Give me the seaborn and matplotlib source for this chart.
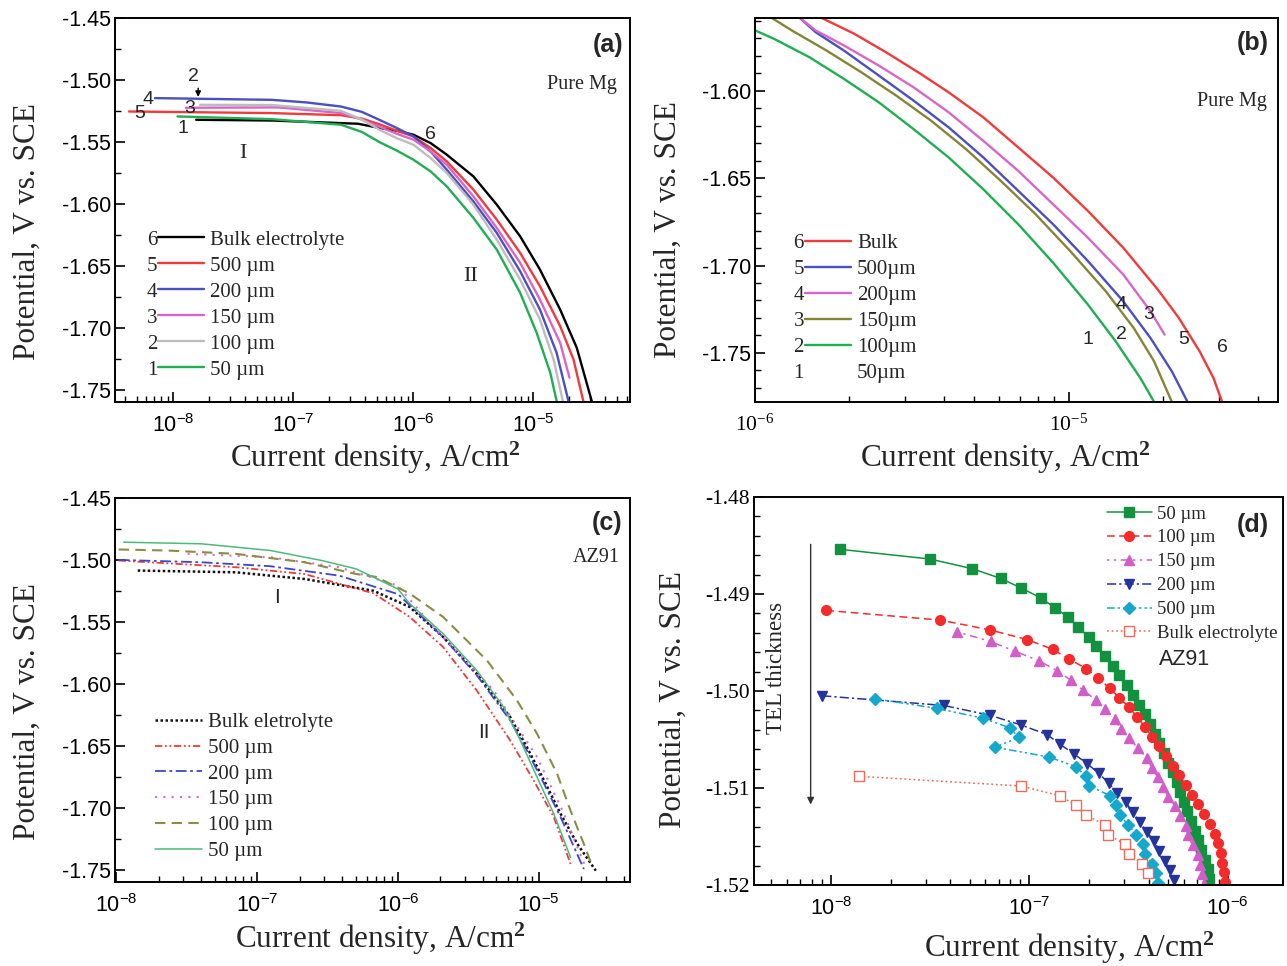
import numpy as np
import pandas as pd
import matplotlib
matplotlib.use("Agg")
import matplotlib.pyplot as plt
import seaborn as sns
from matplotlib.ticker import (FixedLocator, FuncFormatter, LogLocator,
                               NullFormatter, MultipleLocator, FormatStrFormatter)
from matplotlib.lines import Line2D

# ---------------- (a) Pure Mg, cathodic branches ----------------
a_bulk_i = [1.56e-8, 6.68e-8, 3.48e-7, 5.31e-7, 7.30e-7, 1.01e-6, 1.40e-6, 1.91e-6, 3.18e-6, 4.98e-6, 7.80e-6, 1.14e-5, 1.68e-5, 2.31e-5, 3.08e-5]
a_bulk_v = [-1.5322, -1.5328, -1.5354, -1.5389, -1.5410, -1.5443, -1.5510, -1.5604, -1.5779, -1.6007, -1.6263, -1.6531, -1.6854, -1.7162, -1.7593]
a_500_i = [4.30e-9, 6.68e-8, 2.51e-7, 3.74e-7, 5.31e-7, 7.30e-7, 1.01e-6, 1.40e-6, 1.91e-6, 3.18e-6, 4.98e-6, 7.80e-6, 1.14e-5, 1.68e-5, 2.17e-5, 2.62e-5]
a_500_v = [-1.5255, -1.5268, -1.5285, -1.5312, -1.5360, -1.5410, -1.5457, -1.5550, -1.5658, -1.5886, -1.6128, -1.6397, -1.6666, -1.6988, -1.7257, -1.7593]
a_200_i = [7.08e-9, 6.68e-8, 1.30e-7, 2.51e-7, 3.74e-7, 5.31e-7, 7.30e-7, 1.01e-6, 1.40e-6, 1.91e-6, 3.18e-6, 4.98e-6, 7.80e-6, 1.14e-5, 1.57e-5, 1.97e-5]
a_200_v = [-1.5147, -1.5161, -1.5182, -1.5215, -1.5258, -1.5325, -1.5388, -1.5457, -1.5578, -1.5725, -1.5981, -1.6235, -1.6545, -1.6854, -1.7203, -1.7593]
a_150_i = [1.28e-8, 7.64e-8, 2.51e-7, 3.74e-7, 5.31e-7, 7.30e-7, 1.01e-6, 1.40e-6, 1.91e-6, 3.18e-6, 4.98e-6, 7.80e-6, 1.14e-5, 1.68e-5, 2.01e-5]
a_150_v = [-1.5225, -1.5222, -1.5268, -1.5320, -1.5380, -1.5435, -1.5483, -1.5578, -1.5685, -1.5940, -1.6195, -1.6477, -1.6773, -1.7122, -1.7404]
a_100_i = [1.68e-8, 6.68e-8, 2.51e-7, 3.74e-7, 5.31e-7, 7.30e-7, 1.01e-6, 1.40e-6, 1.91e-6, 3.18e-6, 4.98e-6, 7.80e-6, 1.14e-5, 1.48e-5, 1.77e-5]
a_100_v = [-1.5201, -1.5203, -1.5250, -1.5320, -1.5405, -1.5470, -1.5524, -1.5631, -1.5752, -1.6007, -1.6289, -1.6612, -1.6934, -1.7257, -1.7593]
a_50_i = [1.09e-8, 6.68e-8, 2.51e-7, 3.74e-7, 5.31e-7, 7.30e-7, 1.01e-6, 1.40e-6, 1.91e-6, 3.18e-6, 4.98e-6, 7.80e-6, 1.07e-5, 1.39e-5, 1.57e-5]
a_50_v = [-1.5295, -1.5317, -1.5362, -1.5420, -1.5505, -1.5570, -1.5645, -1.5739, -1.5860, -1.6114, -1.6370, -1.6719, -1.7041, -1.7364, -1.7593]
a_labels = ["Bulk electrolyte", "500 µm", "200 µm", "150 µm", "100 µm", "50 µm"]
a_numbers = ["6", "5", "4", "3", "2", "1"]

# ---------------- (b) Pure Mg, enlarged Tafel region ----------------
b_bulk_i = [1.61e-6, 2.07e-6, 2.61e-6, 3.37e-6, 4.14e-6, 5.34e-6, 6.90e-6, 8.91e-6, 1.15e-5, 1.49e-5, 1.92e-5, 2.24e-5, 2.61e-5, 2.89e-5, 3.08e-5]
b_bulk_v = [-1.558, -1.5675, -1.5780, -1.5904, -1.6010, -1.6153, -1.6325, -1.6497, -1.6688, -1.6898, -1.7137, -1.7299, -1.7490, -1.7643, -1.778]
b_500_i = [1.38e-6, 1.56e-6, 1.92e-6, 2.48e-6, 3.20e-6, 4.14e-6, 5.34e-6, 6.90e-6, 8.91e-6, 1.15e-5, 1.49e-5, 1.82e-5, 2.13e-5, 2.39e-5]
b_500_v = [-1.558, -1.5666, -1.5771, -1.5914, -1.6057, -1.6210, -1.6382, -1.6573, -1.6764, -1.6974, -1.7204, -1.7414, -1.7605, -1.778]
b_200_i = [1.38e-6, 1.56e-6, 1.92e-6, 2.48e-6, 3.20e-6, 4.14e-6, 5.34e-6, 6.90e-6, 8.91e-6, 1.15e-5, 1.49e-5, 1.82e-5, 2.02e-5]
b_200_v = [-1.558, -1.5656, -1.5742, -1.5857, -1.5981, -1.6124, -1.6287, -1.6459, -1.6650, -1.6841, -1.7051, -1.7261, -1.7395]
b_150_i = [1.12e-6, 1.31e-6, 1.69e-6, 2.18e-6, 2.82e-6, 3.64e-6, 4.70e-6, 6.07e-6, 7.84e-6, 1.01e-5, 1.31e-5, 1.61e-5, 1.87e-5, 2.13e-5]
b_150_v = [-1.558, -1.5656, -1.5771, -1.5895, -1.6029, -1.6172, -1.6334, -1.6516, -1.6707, -1.6917, -1.7146, -1.7357, -1.7548, -1.778]
b_100_i = [1.00e-6, 1.15e-6, 1.49e-6, 1.92e-6, 2.48e-6, 3.20e-6, 4.14e-6, 5.34e-6, 6.90e-6, 8.91e-6, 1.15e-5, 1.41e-5, 1.69e-5, 1.87e-5]
b_100_v = [-1.5656, -1.5704, -1.5809, -1.5933, -1.6067, -1.6220, -1.6382, -1.6564, -1.6764, -1.6984, -1.7223, -1.7433, -1.7643, -1.778]
b_labels = ["Bulk", "500µm", "200µm", "150µm", "100µm", "50µm"]
b_numbers = ["6", "5", "4", "3", "2", "1"]

# ---------------- (c) AZ91 ----------------
c_bulk_i = [1.42e-8, 7.05e-8, 2.17e-7, 6.70e-7, 1.21e-6, 2.09e-6, 3.62e-6, 6.27e-6, 8.24e-6, 1.09e-5, 1.43e-5, 1.88e-5, 2.54e-5]
c_bulk_v = [-1.5086, -1.5100, -1.5154, -1.5249, -1.5380, -1.5622, -1.5918, -1.6269, -1.6512, -1.6781, -1.7051, -1.7294, -1.7509]
c_500_i = [1.04e-8, 7.05e-8, 2.17e-7, 6.70e-7, 1.21e-6, 2.09e-6, 3.62e-6, 6.27e-6, 9.20e-6, 1.28e-5, 1.68e-5]
c_500_v = [-1.5005, -1.5059, -1.5114, -1.5270, -1.5460, -1.5703, -1.6053, -1.6458, -1.6781, -1.7078, -1.7455]
c_200_i = [1.04e-8, 4.02e-8, 1.24e-7, 3.82e-7, 1.00e-6, 2.09e-6, 3.62e-6, 6.27e-6, 8.24e-6, 1.09e-5, 1.43e-5, 2.09e-5]
c_200_v = [-1.5000, -1.5019, -1.5051, -1.5127, -1.5276, -1.5622, -1.5930, -1.6296, -1.6539, -1.6808, -1.7078, -1.7496]
c_150_i = [3.21e-8, 1.24e-7, 3.82e-7, 1.00e-6, 1.78e-6, 4.78e-6, 9.73e-6, 1.51e-5, 2.15e-5]
c_150_v = [-1.4951, -1.4978, -1.5059, -1.5208, -1.5541, -1.6053, -1.6593, -1.7051, -1.7483]
c_100_i = [1.04e-8, 2.29e-8, 7.05e-8, 2.17e-7, 5.06e-7, 7.00e-7, 1.21e-6, 2.09e-6, 4.28e-6, 7.00e-6, 9.73e-6, 1.35e-5, 1.68e-5, 2.09e-5, 2.34e-5]
c_100_v = [-1.4916, -1.4924, -1.4951, -1.5019, -1.5114, -1.5137, -1.5271, -1.5460, -1.5811, -1.6134, -1.6404, -1.6727, -1.7024, -1.7294, -1.7442]
c_50_i = [1.13e-8, 4.02e-8, 1.24e-7, 2.88e-7, 5.06e-7, 1.00e-6, 1.21e-6, 2.09e-6, 3.62e-6, 5.62e-6, 7.40e-6, 9.73e-6, 1.28e-5, 1.68e-5]
c_50_v = [-1.4857, -1.4870, -1.4924, -1.5005, -1.5073, -1.5235, -1.5352, -1.5595, -1.5891, -1.6188, -1.6458, -1.6755, -1.7051, -1.7402]
c_labels = ["Bulk eletrolyte", "500 µm", "200 µm", "150 µm", "100 µm", "50 µm"]

# ---------------- (d) AZ91, sampled points near corrosion potential ----------------
d_50_i = [1.11e-8, 3.15e-8, 5.16e-8, 7.17e-8, 9.12e-8, 1.14e-7, 1.34e-7, 1.57e-7, 1.75e-7, 1.99e-7,
          2.18e-7, 2.40e-7, 2.63e-7, 2.84e-7, 3.09e-7, 3.34e-7, 3.56e-7, 3.83e-7, 4.06e-7, 4.28e-7,
          4.53e-7, 4.79e-7, 4.98e-7, 5.27e-7, 5.53e-7, 5.75e-7, 5.99e-7, 6.24e-7, 6.55e-7, 6.81e-7,
          7.06e-7, 7.32e-7, 7.71e-7, 7.93e-7, 8.05e-7]
d_50_v = [-1.4854, -1.4864, -1.4874, -1.4884, -1.4894, -1.4904, -1.4914, -1.4924, -1.4934, -1.4944,
          -1.4954, -1.4964, -1.4974, -1.4984, -1.4994, -1.5004, -1.5014, -1.5024, -1.5034, -1.5044,
          -1.5054, -1.5064, -1.5074, -1.5084, -1.5094, -1.5104, -1.5114, -1.5124, -1.5134, -1.5144,
          -1.5154, -1.5164, -1.5174, -1.5184, -1.5194]
d_100_i = [9.49e-9, 3.56e-8, 6.31e-8, 9.73e-8, 1.31e-7, 1.58e-7, 1.94e-7, 2.23e-7, 2.54e-7, 2.84e-7,
           3.19e-7, 3.50e-7, 3.83e-7, 4.14e-7, 4.49e-7, 4.86e-7, 5.27e-7, 5.71e-7, 6.14e-7, 6.60e-7,
           7.11e-7, 7.62e-7, 8.12e-7, 8.59e-7, 8.94e-7, 9.23e-7, 9.38e-7, 9.61e-7, 9.69e-7]
d_100_v = [-1.4917, -1.4927, -1.4937, -1.4947, -1.4957, -1.4967, -1.4977, -1.4987, -1.4997, -1.5007,
           -1.5017, -1.5027, -1.5037, -1.5047, -1.5057, -1.5067, -1.5077, -1.5087, -1.5097, -1.5107,
           -1.5117, -1.5127, -1.5137, -1.5147, -1.5157, -1.5167, -1.5177, -1.5187, -1.5197]
d_150_i = [4.31e-8, 6.38e-8, 8.45e-8, 1.12e-7, 1.38e-7, 1.62e-7, 1.86e-7, 2.16e-7, 2.41e-7, 2.69e-7,
           2.89e-7, 3.19e-7, 3.53e-7, 3.90e-7, 4.14e-7, 4.45e-7, 4.71e-7, 5.02e-7, 5.44e-7, 5.78e-7,
           6.14e-7, 6.31e-7, 6.65e-7, 7.06e-7, 7.26e-7, 7.41e-7, 7.56e-7]
d_150_v = [-1.4939, -1.4949, -1.4959, -1.4969, -1.4979, -1.4989, -1.4999, -1.5009, -1.5019, -1.5029,
           -1.5039, -1.5049, -1.5059, -1.5069, -1.5079, -1.5089, -1.5099, -1.5109, -1.5119, -1.5129,
           -1.5139, -1.5149, -1.5159, -1.5169, -1.5179, -1.5189, -1.5199]
d_200_i = [9.04e-9, 3.71e-8, 6.31e-8, 9.06e-8, 1.23e-7, 1.43e-7, 1.68e-7, 1.96e-7, 2.24e-7, 2.51e-7,
           2.77e-7, 3.07e-7, 3.32e-7, 3.60e-7, 3.90e-7, 4.26e-7, 4.53e-7, 4.82e-7, 5.10e-7, 5.37e-7]
d_200_v = [-1.5005, -1.5015, -1.5025, -1.5035, -1.5045, -1.5055, -1.5065, -1.5075, -1.5085, -1.5095,
           -1.5105, -1.5115, -1.5125, -1.5135, -1.5145, -1.5155, -1.5165, -1.5175, -1.5185, -1.5195]
d_500_i = [1.66e-8, 3.42e-8, 5.82e-8, 7.96e-8, 8.87e-8, 6.70e-8, 1.25e-7, 1.72e-7, 1.92e-7, 2.01e-7,
           2.56e-7, 2.72e-7, 2.86e-7, 3.15e-7, 3.46e-7, 3.75e-7, 3.83e-7, 4.14e-7, 4.36e-7, 4.45e-7]
d_500_v = [-1.5008, -1.5018, -1.5028, -1.5038, -1.5048, -1.5058, -1.5068, -1.5078, -1.5088, -1.5098,
           -1.5108, -1.5118, -1.5128, -1.5138, -1.5148, -1.5158, -1.5168, -1.5178, -1.5188, -1.5198]
d_bulk_i = [1.38e-8, 9.12e-8, 1.42e-7, 1.72e-7, 1.92e-7, 2.41e-7, 2.49e-7, 3.03e-7, 3.19e-7, 3.70e-7, 3.98e-7]
d_bulk_v = [-1.5088, -1.5098, -1.5108, -1.5118, -1.5128, -1.5138, -1.5148, -1.5158, -1.5168, -1.5178, -1.5188]
d_labels = ["50 µm", "100 µm", "150 µm", "200 µm", "500 µm", "Bulk electrolyte"]

# ---------------- style ----------------
sns.set_style("ticks")
SERIF = "Liberation Serif"
SANS = "Liberation Sans"
plt.rcParams.update({
    "font.family": [SERIF, "DejaVu Serif"],
    "mathtext.fontset": "custom",
    "mathtext.rm": SERIF,
    "mathtext.it": SERIF + ":italic",
    "mathtext.bf": SERIF + ":bold",
    "axes.unicode_minus": False,
    "axes.linewidth": 1.4,
    "axes.edgecolor": "black",
    "xtick.color": "black",
    "ytick.color": "black",
})

XLABEL = "Current density, A/cm$^{\\mathbf{2}}$"
YLABEL = "Potential, V vs. SCE"
LABEL_SIZE = 22.5
TICK_SIZE = 15.5


def sup_fmt(v, pos):
    return r"$\mathregular{10^{%d}}$" % int(round(np.log10(v)))


def curve(ax, i, v, color, lw=1.6, **kw):
    df = pd.DataFrame({"i": i, "v": v})
    sns.lineplot(data=df, x="i", y="v", ax=ax, color=color, lw=lw,
                 sort=False, estimator=None, legend=False, **kw)
    return ax.get_lines()[-1]


def setup(ax, xlim, ylim, xmajors, ymajor, yminor, xfont, yfont):
    ax.set_xscale("log")
    ax.set_xlim(*xlim)
    ax.set_ylim(*ylim)
    ax.xaxis.set_major_locator(FixedLocator(xmajors))
    ax.xaxis.set_major_formatter(FuncFormatter(sup_fmt))
    ax.xaxis.set_minor_locator(LogLocator(base=10, subs=np.arange(2, 10), numticks=50))
    ax.xaxis.set_minor_formatter(NullFormatter())
    ax.yaxis.set_major_locator(MultipleLocator(ymajor))
    ax.yaxis.set_minor_locator(MultipleLocator(yminor))
    ax.yaxis.set_major_formatter(FormatStrFormatter("%.2f"))
    ax.tick_params(axis="x", which="major", direction="in", length=7, width=1.2,
                   labelsize=TICK_SIZE, pad=9, labelfontfamily=xfont)
    ax.tick_params(axis="x", which="minor", direction="in", length=4, width=1.0)
    ax.tick_params(axis="y", which="major", direction="in", length=7, width=1.2,
                   labelsize=TICK_SIZE, pad=3, labelfontfamily=yfont)
    ax.tick_params(axis="y", which="minor", direction="in", length=4, width=1.0)
    ax.tick_params(top=False, right=False, which="both")
    for s in ax.spines.values():
        s.set_visible(True)
        s.set_linewidth(1.4)
    ax.set_xlabel(XLABEL, fontsize=LABEL_SIZE, family=SERIF)
    ax.set_ylabel(YLABEL, fontsize=LABEL_SIZE, family=SERIF)


def make_legend(ax, handles, labels, x, y, size, hl, pad, spacing):
    return ax.legend(handles, labels, loc="upper left", bbox_to_anchor=(x, y),
                     bbox_transform=ax.transAxes, frameon=False, borderpad=0,
                     borderaxespad=0, handlelength=hl, handletextpad=pad,
                     labelspacing=spacing, numpoints=1,
                     prop={"family": SERIF, "size": size})


fig = plt.figure(figsize=(12.87, 9.66), dpi=100)
ax_a = fig.add_axes([0.0894, 0.5839, 0.4002, 0.3975])
ax_b = fig.add_axes([0.5866, 0.5839, 0.4064, 0.3975])
ax_c = fig.add_axes([0.0894, 0.0870, 0.4002, 0.3975])
ax_d = fig.add_axes([0.5859, 0.0839, 0.4110, 0.4017])

# ---- panel (a)
a_colors = ["#000000", "#f23a3a", "#4a4fc4", "#d866c6", "#bdbdbd", "#1fae52"]
a_series = [(a_bulk_i, a_bulk_v), (a_500_i, a_500_v), (a_200_i, a_200_v),
            (a_150_i, a_150_v), (a_100_i, a_100_v), (a_50_i, a_50_v)]
a_lines = [curve(ax_a, i, v, c, lw=1.7) for (i, v), c in zip(a_series, a_colors)]
setup(ax_a, (3.29e-9, 6.43e-5), (-1.76, -1.45), [1e-8, 1e-7, 1e-6, 1e-5],
      0.05, 0.025, SANS, SANS)
leg_a = make_legend(ax_a, a_lines, a_labels, 0.0835, 0.448, 15, 2.2, 0.3, 0.31)
for txt, (xx, yy) in zip(["2", "4", "5", "3", "1", "6"],
                         [(1.47e-8, -1.4973), (6.17e-9, -1.5161), (5.25e-9, -1.5268),
                          (1.37e-8, -1.5228), (1.20e-8, -1.5389), (1.39e-6, -1.5443)]):
    ax_a.text(xx, yy, txt, ha="center", va="center", fontsize=14, family=SANS)
ax_a.annotate("", xy=(1.62e-8, -1.5160), xytext=(1.62e-8, -1.5045),
              arrowprops=dict(arrowstyle="-|>", color="black", lw=1.0, mutation_scale=8))
ax_a.text(3.83e-8, -1.5591, "I", ha="center", va="center", fontsize=16, family=SERIF)
ax_a.text(2.99e-6, -1.6585, "II", ha="center", va="center", fontsize=16, family=SERIF)
ax_a.text(0.975, 0.826, "Pure Mg", transform=ax_a.transAxes, ha="right", va="center",
          fontsize=14.5, family=SERIF)
ax_a.text(0.986, 0.93, "(a)", transform=ax_a.transAxes, ha="right", va="center",
          fontsize=18, family=SANS, fontweight="bold")

# ---- panel (b)
b_colors = ["#f23a3a", "#4a4fc4", "#d866c6", "#858538", "#1fae52"]
b_series = [(b_bulk_i, b_bulk_v), (b_500_i, b_500_v), (b_200_i, b_200_v),
            (b_150_i, b_150_v), (b_100_i, b_100_v)]
b_lines = [curve(ax_b, i, v, c, lw=1.7) for (i, v), c in zip(b_series, b_colors)]
setup(ax_b, (1e-6, 4.64e-5), (-1.778, -1.5585), [1e-6, 1e-5],
      0.05, 0.01, SERIF, SANS)
b_handles = b_lines + [Line2D([], [], color="none")]
leg_b = make_legend(ax_b, b_handles, b_labels, 0.0956, 0.439, 15, 2.2, 0.3, 0.31)
for txt, (xx, yy) in zip(["4", "3", "1", "2", "5", "6"],
                         [(1.47e-5, -1.7223), (1.80e-5, -1.7280), (1.15e-5, -1.7423),
                          (1.47e-5, -1.7395), (2.33e-5, -1.7423), (3.08e-5, -1.7471)]):
    ax_b.text(xx, yy, txt, ha="center", va="center", fontsize=14, family=SANS)
ax_b.text(0.979, 0.782, "Pure Mg", transform=ax_b.transAxes, ha="right", va="center",
          fontsize=14.5, family=SERIF)
ax_b.text(0.982, 0.935, "(b)", transform=ax_b.transAxes, ha="right", va="center",
          fontsize=18, family=SANS, fontweight="bold")

# ---- panel (c)
c_styles = [
    (c_bulk_i, c_bulk_v, "#111111", (0, (1.0, 1.0)), 1.8),
    (c_500_i, c_500_v, "#f03a3a", (0, (4, 1.5, 1, 1.5, 1, 1.5)), 1.3),
    (c_200_i, c_200_v, "#3c46c8", (0, (6, 2, 1.5, 2)), 1.3),
    (c_150_i, c_150_v, "#dd6ad2", (0, (1, 3)), 1.5),
    (c_100_i, c_100_v, "#8c8c46", (0, (5, 3)), 1.5),
    (c_50_i, c_50_v, "#4dba7c", "-", 1.1),
]
c_lines = [curve(ax_c, i, v, col, lw=lw, linestyle=ls) for i, v, col, ls, lw in c_styles]
setup(ax_c, (9.8e-9, 4.45e-5), (-1.76, -1.45), [1e-8, 1e-7, 1e-6, 1e-5],
      0.05, 0.025, SANS, SANS)
leg_c = make_legend(ax_c, c_lines, c_labels, 0.0777, 0.4416, 15, 2.25, 0.3, 0.30)
ax_c.text(1.39e-7, -1.5303, "I", ha="center", va="center", fontsize=15, family=SANS)
ax_c.text(4.05e-6, -1.639, "II", ha="center", va="center", fontsize=15, family=SANS)
ax_c.text(0.979, 0.844, "AZ91", transform=ax_c.transAxes, ha="right", va="center",
          fontsize=14.5, family=SERIF)
ax_c.text(0.985, 0.935, "(c)", transform=ax_c.transAxes, ha="right", va="center",
          fontsize=18, family=SANS, fontweight="bold")

# ---- panel (d)
d_styles = [
    (d_50_i, d_50_v, "#12923f", "-", "s", 6.5, True),
    (d_100_i, d_100_v, "#f52a2a", (0, (5, 3)), "o", 7.0, True),
    (d_150_i, d_150_v, "#d25cc8", (0, (1.5, 3, 1.5, 3, 5, 3)), "^", 7.0, True),
    (d_200_i, d_200_v, "#25339c", (0, (6, 2, 1.5, 2)), "v", 7.0, True),
    (d_500_i, d_500_v, "#14a8cc", (0, (5, 2, 1.5, 2, 1.5, 2)), "D", 6.0, True),
    (d_bulk_i, d_bulk_v, "#f06a5a", (0, (1.2, 1.8)), "s", 6.5, False),
]
d_lines = []
for i, v, col, ls, mk, ms, filled in d_styles:
    d_lines.append(curve(ax_d, i, v, col, lw=1.1, linestyle=ls, marker=mk, markersize=ms,
                         markeredgecolor=col, markeredgewidth=1.0,
                         markerfacecolor=col if filled else "white"))
setup(ax_d, (4.1e-9, 1.9e-6), (-1.52, -1.48), [1e-8, 1e-7, 1e-6],
      0.01, 0.002, SANS, SERIF)
leg_d = make_legend(ax_d, d_lines, d_labels, 0.667, 0.978, 13.5, 2.4, 0.27, 0.36)
ax_d.text(0.813, 0.58, "AZ91", transform=ax_d.transAxes, ha="center", va="center",
          fontsize=15.5, family=SANS)
ax_d.text(0.943, 0.928, "(d)", transform=ax_d.transAxes, ha="center", va="center",
          fontsize=18, family=SANS, fontweight="bold")
ax_d.annotate("", xy=(0.107, 0.20), xytext=(0.107, 0.885), xycoords="axes fraction",
              textcoords="axes fraction",
              arrowprops=dict(arrowstyle="-|>", color="#333333", lw=1.0, mutation_scale=10))
ax_d.text(0.0416, 0.559, "TEL thickness", transform=ax_d.transAxes, rotation=90,
          ha="center", va="center", fontsize=16.5, family=SERIF)

# axis label placement
ax_a.yaxis.set_label_coords(-0.142, 0.445)
ax_a.xaxis.set_label_coords(0.505, -0.099)
ax_b.yaxis.set_label_coords(-0.138, 0.448)
ax_b.xaxis.set_label_coords(0.478, -0.099)
ax_c.yaxis.set_label_coords(-0.142, 0.443)
ax_c.xaxis.set_label_coords(0.515, -0.102)
ax_d.yaxis.set_label_coords(-0.125, 0.477)
ax_d.xaxis.set_label_coords(0.597, -0.116)

# numbers in front of the legend rows of (a) and (b)
fig.canvas.draw()
for ax, leg, nums, xr in [(ax_a, leg_a, a_numbers, 0.0816), (ax_b, leg_b, b_numbers, 0.0937)]:
    inv = ax.transAxes.inverted()
    for t, n in zip(leg.get_texts(), nums):
        bb = t.get_window_extent()
        _, yc = inv.transform((0, (bb.y0 + bb.y1) / 2))
        ax.text(xr, yc, n, transform=ax.transAxes, ha="right", va="center",
                fontsize=15, family=SERIF)

fig.savefig("out.png", dpi=100)
